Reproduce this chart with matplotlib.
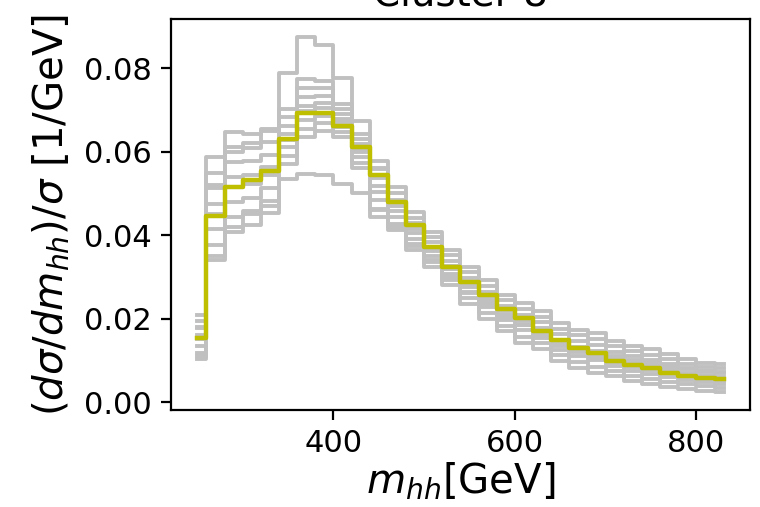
import numpy as np
import matplotlib
matplotlib.use("Agg")
import matplotlib.pyplot as plt

# ------------------------------------------------------------
# Data: normalised m_hh distributions (bin centres in GeV)
# ------------------------------------------------------------
mhh = np.arange(250, 831, 20)

benchmark = [0.0155, 0.0447, 0.0515, 0.0531, 0.0554, 0.0630, 0.0693, 0.0693, 0.0661, 0.0610,
             0.0543, 0.0479, 0.0424, 0.0372, 0.0325, 0.0287, 0.0257, 0.0223, 0.0202, 0.0170,
             0.0150, 0.0131, 0.0119, 0.0099, 0.0089, 0.0083, 0.0071, 0.0063, 0.0057, 0.0055]

member_hi = [0.0210, 0.0586, 0.0646, 0.0642, 0.0654, 0.0702, 0.0773, 0.0770, 0.0713, 0.0642,
             0.0578, 0.0515, 0.0455, 0.0408, 0.0364, 0.0325, 0.0293, 0.0257, 0.0238, 0.0218,
             0.0190, 0.0174, 0.0166, 0.0146, 0.0135, 0.0127, 0.0115, 0.0103, 0.0095, 0.0091]
member_lo = [0.0103, 0.0340, 0.0408, 0.0424, 0.0452, 0.0570, 0.0634, 0.0650, 0.0634, 0.0562,
             0.0443, 0.0412, 0.0364, 0.0325, 0.0281, 0.0235, 0.0200, 0.0170, 0.0143, 0.0127,
             0.0099, 0.0083, 0.0071, 0.0063, 0.0051, 0.0043, 0.0036, 0.0032, 0.0028, 0.0024]
member_peak = [0.0180, 0.0520, 0.0600, 0.0620, 0.0650, 0.0788, 0.0875, 0.0856, 0.0776, 0.0673,
               0.0560, 0.0480, 0.0420, 0.0365, 0.0320, 0.0280, 0.0245, 0.0210, 0.0185, 0.0160,
               0.0135, 0.0120, 0.0108, 0.0095, 0.0085, 0.0078, 0.0070, 0.0062, 0.0056, 0.0052]
member_flat = [0.0110, 0.0350, 0.0420, 0.0450, 0.0470, 0.0535, 0.0547, 0.0543, 0.0523, 0.0500,
               0.0460, 0.0420, 0.0375, 0.0340, 0.0300, 0.0265, 0.0235, 0.0205, 0.0185, 0.0165,
               0.0145, 0.0130, 0.0120, 0.0110, 0.0100, 0.0093, 0.0086, 0.0080, 0.0075, 0.0072]
member_1 = [0.0194, 0.0549, 0.0610, 0.0609, 0.0624, 0.0682, 0.0752, 0.0752, 0.0701, 0.0606,
            0.0517, 0.0469, 0.0414, 0.0371, 0.0327, 0.0285, 0.0214, 0.0183, 0.0157, 0.0141,
            0.0113, 0.0097, 0.0085, 0.0075, 0.0064, 0.0056, 0.0048, 0.0043, 0.0038, 0.0034]
member_2 = [0.0119, 0.0377, 0.0444, 0.0457, 0.0482, 0.0590, 0.0655, 0.0668, 0.0646, 0.0598,
            0.0504, 0.0458, 0.0405, 0.0362, 0.0318, 0.0276, 0.0279, 0.0244, 0.0224, 0.0204,
            0.0176, 0.0160, 0.0152, 0.0134, 0.0122, 0.0114, 0.0103, 0.0092, 0.0085, 0.0081]
member_3 = [0.0135, 0.0414, 0.0479, 0.0489, 0.0513, 0.0610, 0.0676, 0.0686, 0.0658, 0.0618,
            0.0538, 0.0484, 0.0428, 0.0383, 0.0339, 0.0298, 0.0251, 0.0218, 0.0195, 0.0177,
            0.0149, 0.0133, 0.0123, 0.0109, 0.0097, 0.0089, 0.0079, 0.0071, 0.0065, 0.0061]
member_4 = [0.0178, 0.0512, 0.0575, 0.0577, 0.0593, 0.0662, 0.0731, 0.0734, 0.0689, 0.0586,
            0.0484, 0.0443, 0.0391, 0.0350, 0.0306, 0.0262, 0.0228, 0.0196, 0.0172, 0.0154,
            0.0126, 0.0110, 0.0100, 0.0088, 0.0076, 0.0068, 0.0060, 0.0053, 0.0048, 0.0044]
member_5 = [0.0162, 0.0475, 0.0539, 0.0544, 0.0563, 0.0643, 0.0710, 0.0716, 0.0677, 0.0574,
            0.0463, 0.0427, 0.0378, 0.0337, 0.0293, 0.0249, 0.0265, 0.0231, 0.0210, 0.0191,
            0.0163, 0.0147, 0.0138, 0.0121, 0.0110, 0.0102, 0.0091, 0.0082, 0.0075, 0.0071]
member_6 = [0.0151, 0.0451, 0.0515, 0.0522, 0.0543, 0.0629, 0.0697, 0.0704, 0.0670, 0.0630,
            0.0558, 0.0500, 0.0441, 0.0396, 0.0352, 0.0312, 0.0242, 0.0209, 0.0186, 0.0168,
            0.0140, 0.0124, 0.0114, 0.0100, 0.0089, 0.0081, 0.0072, 0.0064, 0.0058, 0.0054]

members = [member_hi, member_lo, member_peak, member_flat,
           member_1, member_2, member_3, member_4, member_5, member_6]

# ------------------------------------------------------------
# Plot
# ------------------------------------------------------------
fig = plt.figure(figsize=(3.8, 2.535))
ax = fig.add_axes([0.225, 0.1913, 0.7618, 0.7712])

for m in members:
    ax.step(mhh, m, where="mid", color="silver", linewidth=1.4)
ax.step(mhh, benchmark, where="mid", color="y", linewidth=1.6)

ax.set_title("Cluster 8", fontsize=14, pad=5)
ax.set_xlabel(r"$m_{hh}$[GeV]", fontsize=14.5, labelpad=1)
ax.set_ylabel(r"$(d\sigma/dm_{hh})/\sigma$ [1/GeV]", fontsize=14.5)
ax.tick_params(labelsize=11)

fig.savefig("out.png", dpi=200)
